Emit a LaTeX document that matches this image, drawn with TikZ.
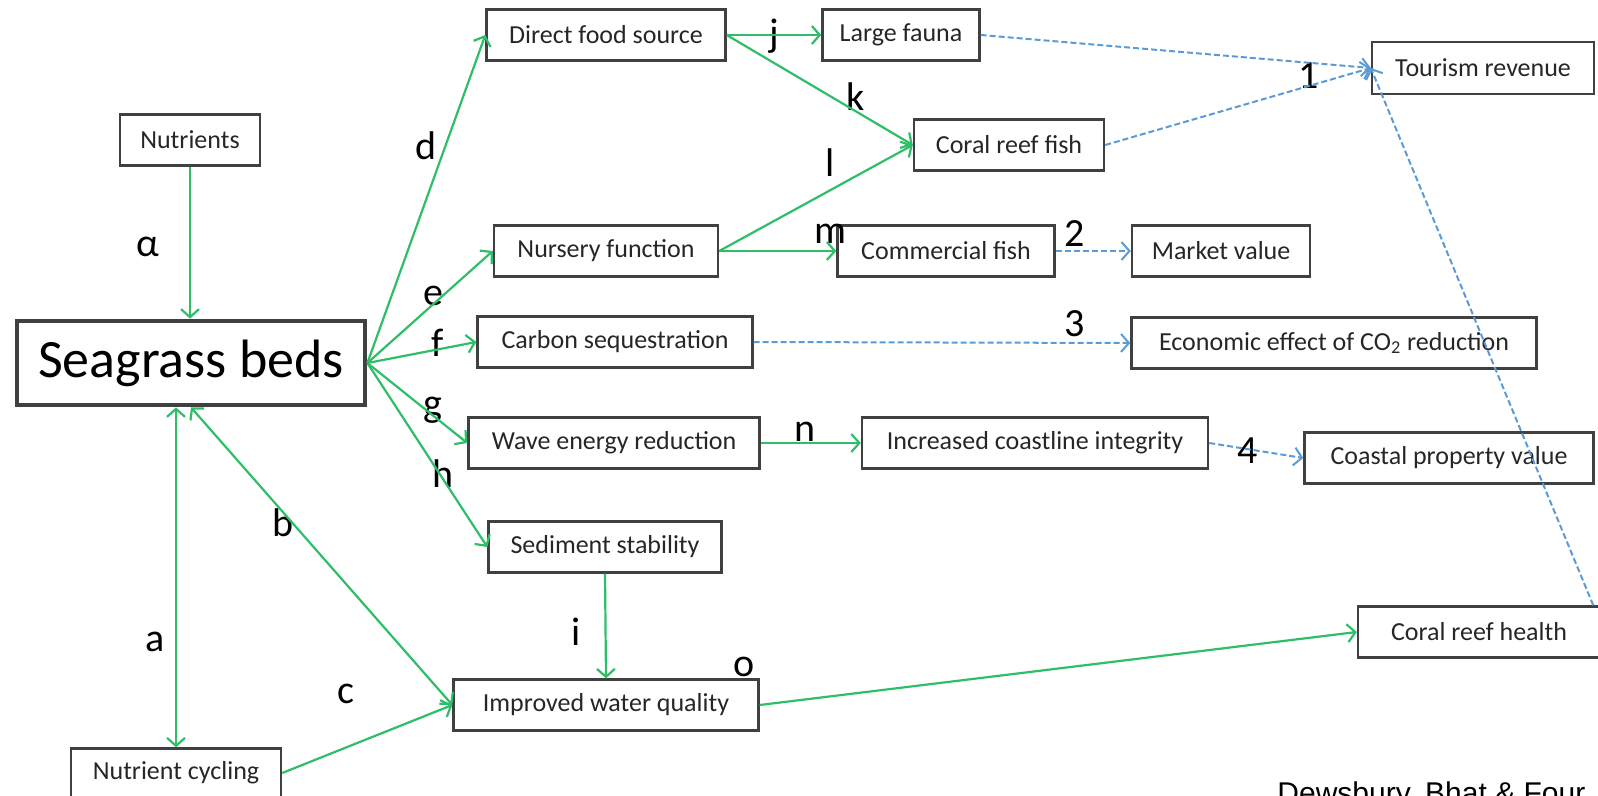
\documentclass[tikz,border=0pt]{standalone}
\usepackage{fontspec}
\setmainfont{Carlito}
\newfontfamily\creditfont{Liberation Sans}
\usepackage{tikz}
\usetikzlibrary{arrows.meta}
\definecolor{Link}{RGB}{46,190,104}
\definecolor{Money}{RGB}{91,155,213}
\definecolor{Frame}{RGB}{64,64,64}
\definecolor{Ink}{RGB}{38,38,38}

\begin{document}
\begin{tikzpicture}[x=0.5pt, y=-0.5pt]
			\tikzstyle{box}=[draw=Frame, line width=1.2pt, shape=rectangle, minimum height=25.5pt, inner sep=0pt, text=Ink, font=\fontsize{13}{15}\selectfont];
			\tikzstyle{lbl}=[inner sep=0pt, font=\fontsize{20}{24}\selectfont];
			\tikzstyle{greenflow}=[draw=Link, line width=1.1pt, -{Straight Barb[length=4pt,width=9pt]}];
			\tikzstyle{blueflow}=[draw=Money, line width=1pt, dash pattern=on 3pt off 1.5pt, -{Straight Barb[length=4pt,width=9pt]}];
			\useasboundingbox (0, 0) rectangle (1598, 796);
			\node [box, minimum width=70pt] (nut) at (190, 140) {Nutrients};
			\node [box, minimum width=174pt, minimum height=42pt, line width=2.4pt, text=black, font=\fontsize{27}{32}\selectfont] (sea) at (191, 363) {Seagrass beds};
			\node [box, minimum width=105pt, minimum height=24.5pt] (ncyc) at (176, 773) {Nutrient cycling};
			\node [box, minimum width=119.5pt] (dfs) at (606, 35) {Direct food source};
			\node [box, minimum width=78.5pt] (fauna) at (901, 35) {Large fauna};
			\node [box, minimum width=111pt, minimum height=26pt] (tour) at (1483, 68) {Tourism revenue};
			\node [box, minimum width=95pt] (crf) at (1009, 145) {Coral reef fish};
			\node [box, minimum width=112pt] (nur) at (606, 251) {Nursery function};
			\node [box, minimum width=108.5pt] (cf) at (946, 251) {Commercial fish};
			\node [box, minimum width=89pt] (mv) at (1221, 251) {Market value};
			\node [box, minimum width=137.5pt] (cs) at (615, 342) {Carbon sequestration};
			\node [box, minimum width=202.5pt] (eco) at (1334, 343) {Economic effect of CO\textsubscript{2} reduction};
			\node [box, minimum width=145.5pt] (wave) at (614, 443) {Wave energy reduction};
			\node [box, minimum width=173pt] (icl) at (1035, 443) {Increased coastline integrity};
			\node [box, minimum width=144.5pt] (cpv) at (1449, 458) {Coastal property value};
			\node [box, minimum width=116.5pt] (sed) at (605, 547) {Sediment stability};
			\node [box, minimum width=152.5pt] (iwq) at (606, 705) {Improved water quality};
			\node [box, minimum width=121pt] (crh) at (1479, 632) {Coral reef health};
			\node [lbl] (labalpha) at (148, 247) {α};
			\node [lbl] (laba) at (155, 642) {a};
			\node [lbl] (labb) at (283, 523) {b};
			\node [lbl] (labc) at (346, 694) {c};
			\node [lbl] (labd) at (426, 146) {d};
			\node [lbl] (labe) at (433, 296) {e};
			\node [lbl] (labf) at (438, 343) {f};
			\node [lbl] (labg) at (433, 410) {g};
			\node [lbl] (labh) at (443, 474) {h};
			\node [lbl] (labi) at (576, 632) {i};
			\node [lbl] (labj) at (774, 36) {j};
			\node [lbl] (labk) at (856, 97) {k};
			\node [lbl] (labl) at (830, 163) {l};
			\node [lbl] (labm) at (830, 234) {m};
			\node [lbl] (labn) at (805, 432) {n};
			\node [lbl] (labo) at (744, 667) {o};
			\node [lbl] (lab1) at (1309, 76) {1};
			\node [lbl] (lab2) at (1075, 234) {2};
			\node [lbl] (lab3) at (1075, 324) {3};
			\node [lbl] (lab4) at (1248, 451) {4};
			\node [anchor=base west, inner sep=0pt, font=\creditfont\fontsize{15}{18}\selectfont] (credit) at (1277, 803) {Dewsbury, Bhat \& Four};
			\draw [greenflow] (nut.south) -- (nut.south |- sea.north);
			\draw [greenflow, {Straight Barb[length=4pt,width=9pt]}-{Straight Barb[length=4pt,width=9pt]}] (ncyc.north |- sea.south) -- (ncyc.north);
			\draw [greenflow, {Straight Barb[length=4pt,width=9pt]}-{Straight Barb[length=4pt,width=9pt]}] (sea.south) -- (iwq.west);
			\draw [greenflow] (ncyc.east) -- (iwq.west);
			\draw [greenflow] (sea.east) -- (dfs.west);
			\draw [greenflow] (sea.east) -- (nur.west);
			\draw [greenflow] (sea.east) -- (cs.west);
			\draw [greenflow] (sea.east) -- (wave.west);
			\draw [greenflow] (sea.east) -- (sed.west);
			\draw [greenflow] (sed.south) -- (iwq.north);
			\draw [greenflow] (dfs.east) -- (fauna.west);
			\draw [greenflow] (dfs.east) -- (crf.west);
			\draw [greenflow] (nur.east) -- (crf.west);
			\draw [greenflow] (nur.east) -- (cf.west);
			\draw [greenflow] (wave.east) -- (icl.west);
			\draw [greenflow] (iwq.east) -- (crh.west);
			\draw [blueflow] (fauna.east) -- (tour.west);
			\draw [blueflow] (crf.east) -- (tour.west);
			\draw [blueflow] (cf.east) -- (mv.west);
			\draw [blueflow] (cs.east) -- (eco.west);
			\draw [blueflow] (icl.east) -- (cpv.west);
			\draw [blueflow] ([xshift=-4pt]crh.north east) -- (tour.west);
		\end{tikzpicture}
\end{document}
